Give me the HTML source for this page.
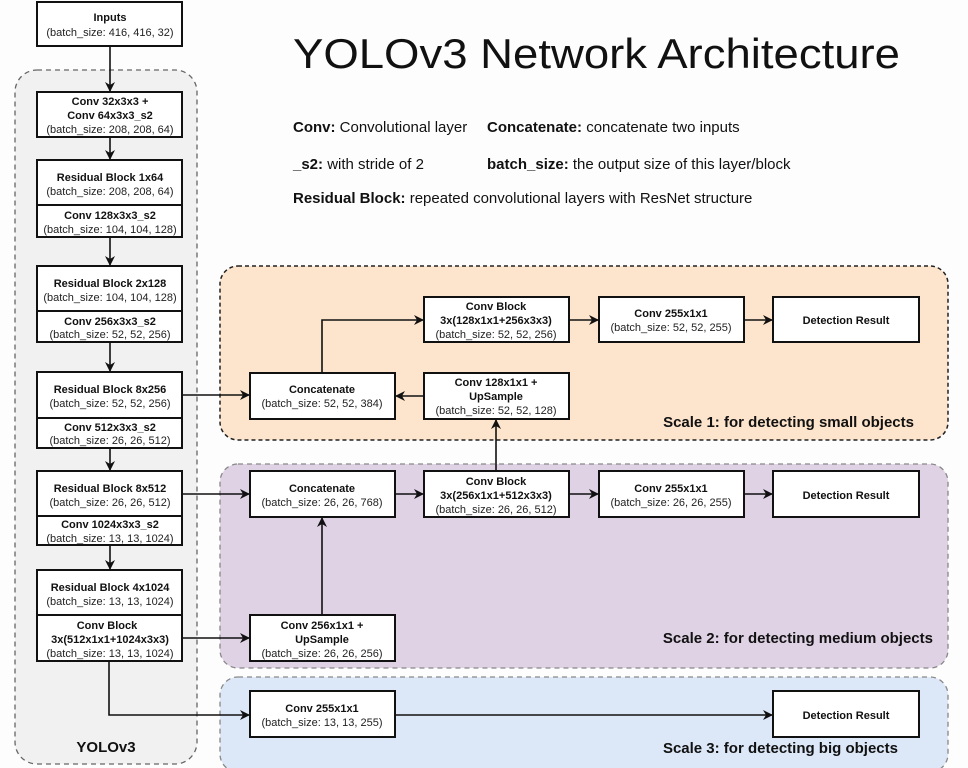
<!DOCTYPE html>
<html><head><meta charset="utf-8"><style>
html,body{margin:0;padding:0;background:#fdfdfd;}
svg{display:block;}
text{font-family:"Liberation Sans",Arial,sans-serif;fill:#111;}
.b{font-weight:bold;font-size:11px;}
.n{font-size:11px;fill:#222;}
</style></head><body>
<svg width="968" height="768" viewBox="0 0 968 768" xmlns="http://www.w3.org/2000/svg">
<defs><marker id="a" markerWidth="10" markerHeight="10" refX="9" refY="5" orient="auto" markerUnits="userSpaceOnUse"><path d="M0,0 L10,5 L0,10 L3,5 z" fill="#111"/></marker></defs>
<rect width="968" height="768" fill="#fdfdfd"/>
<!-- containers -->
<rect x="15" y="70" width="182" height="694" rx="22" fill="#f1f1f1" stroke="#666" stroke-width="1.3" stroke-dasharray="5,4"/>
<rect x="220" y="266" width="728" height="174" rx="18" fill="#fde4cc" stroke="#222" stroke-width="1.5" stroke-dasharray="4,3"/>
<rect x="220" y="464" width="728" height="204" rx="18" fill="#e0d2e5" stroke="#888" stroke-width="1.3" stroke-dasharray="5,4"/>
<rect x="220" y="677" width="728" height="95" rx="18" fill="#dce8f8" stroke="#888" stroke-width="1.3" stroke-dasharray="5,4"/>
<!-- title -->
<text x="293" y="68" font-size="42" textLength="607" lengthAdjust="spacingAndGlyphs">YOLOv3 Network Architecture</text>
<g font-size="15">
<text x="293" y="132"><tspan font-weight="bold">Conv:</tspan> Convolutional layer</text>
<text x="487" y="132"><tspan font-weight="bold">Concatenate:</tspan> concatenate two inputs</text>
<text x="293" y="169"><tspan font-weight="bold">_s2:</tspan> with stride of 2</text>
<text x="487" y="169"><tspan font-weight="bold">batch_size:</tspan> the output size of this layer/block</text>
<text x="293" y="203"><tspan font-weight="bold">Residual Block:</tspan> repeated convolutional layers with ResNet structure</text>
</g>
<!-- left column boxes -->
<g fill="#fff" stroke="#111" stroke-width="2">
<rect x="37" y="2" width="145" height="44"/>
<rect x="37" y="92" width="145" height="45"/>
<rect x="37" y="160" width="145" height="45"/><rect x="37" y="205" width="145" height="32"/>
<rect x="37" y="266" width="145" height="45"/><rect x="37" y="311" width="145" height="31"/>
<rect x="37" y="372" width="145" height="46"/><rect x="37" y="418" width="145" height="30"/>
<rect x="37" y="471" width="145" height="45"/><rect x="37" y="516" width="145" height="29"/>
<rect x="37" y="570" width="145" height="45"/><rect x="37" y="615" width="145" height="46"/>
<rect x="250" y="297" width="0" height="0"/>
<rect x="424" y="297" width="145" height="45"/><rect x="599" y="297" width="145" height="45"/><rect x="773" y="297" width="146" height="45"/>
<rect x="250" y="373" width="145" height="46"/><rect x="424" y="373" width="145" height="46"/>
<rect x="250" y="471" width="145" height="46"/><rect x="424" y="471" width="145" height="46"/><rect x="599" y="471" width="145" height="46"/><rect x="773" y="471" width="146" height="46"/>
<rect x="250" y="615" width="145" height="46"/>
<rect x="250" y="691" width="145" height="46"/><rect x="773" y="691" width="146" height="46"/>
</g>
<g text-anchor="middle">
<text class="b" x="110" y="21">Inputs</text><text class="n" x="110" y="36">(batch_size: 416, 416, 32)</text>
<text class="b" x="110" y="105">Conv 32x3x3 +</text><text class="b" x="110" y="119">Conv 64x3x3_s2</text><text class="n" x="110" y="133">(batch_size: 208, 208, 64)</text>
<text class="b" x="110" y="181">Residual Block 1x64</text><text class="n" x="110" y="195">(batch_size: 208, 208, 64)</text>
<text class="b" x="110" y="219">Conv 128x3x3_s2</text><text class="n" x="110" y="233">(batch_size: 104, 104, 128)</text>
<text class="b" x="110" y="287">Residual Block 2x128</text><text class="n" x="110" y="301">(batch_size: 104, 104, 128)</text>
<text class="b" x="110" y="325">Conv 256x3x3_s2</text><text class="n" x="110" y="338">(batch_size: 52, 52, 256)</text>
<text class="b" x="110" y="393">Residual Block 8x256</text><text class="n" x="110" y="407">(batch_size: 52, 52, 256)</text>
<text class="b" x="110" y="431">Conv 512x3x3_s2</text><text class="n" x="110" y="444">(batch_size: 26, 26, 512)</text>
<text class="b" x="110" y="492">Residual Block 8x512</text><text class="n" x="110" y="506">(batch_size: 26, 26, 512)</text>
<text class="b" x="110" y="528">Conv 1024x3x3_s2</text><text class="n" x="110" y="542">(batch_size: 13, 13, 1024)</text>
<text class="b" x="110" y="591">Residual Block 4x1024</text><text class="n" x="110" y="605">(batch_size: 13, 13, 1024)</text>
<text class="b" x="107" y="629">Conv Block</text><text class="b" x="110" y="643">3x(512x1x1+1024x3x3)</text><text class="n" x="110" y="657">(batch_size: 13, 13, 1024)</text>
<text x="106" y="752" font-size="15" font-weight="bold">YOLOv3</text>

<text class="b" x="496" y="310">Conv Block</text><text class="b" x="496" y="324">3x(128x1x1+256x3x3)</text><text class="n" x="496" y="338">(batch_size: 52, 52, 256)</text>
<text class="b" x="671" y="317">Conv 255x1x1</text><text class="n" x="671" y="331">(batch_size: 52, 52, 255)</text>
<text class="b" x="846" y="324">Detection Result</text>
<text class="b" x="322" y="393">Concatenate</text><text class="n" x="322" y="407">(batch_size: 52, 52, 384)</text>
<text class="b" x="496" y="386">Conv 128x1x1 +</text><text class="b" x="496" y="400">UpSample</text><text class="n" x="496" y="414">(batch_size: 52, 52, 128)</text>
<text class="b" x="322" y="492">Concatenate</text><text class="n" x="322" y="506">(batch_size: 26, 26, 768)</text>
<text class="b" x="496" y="485">Conv Block</text><text class="b" x="496" y="499">3x(256x1x1+512x3x3)</text><text class="n" x="496" y="513">(batch_size: 26, 26, 512)</text>
<text class="b" x="671" y="492">Conv 255x1x1</text><text class="n" x="671" y="506">(batch_size: 26, 26, 255)</text>
<text class="b" x="846" y="499">Detection Result</text>
<text class="b" x="322" y="629">Conv 256x1x1 +</text><text class="b" x="322" y="643">UpSample</text><text class="n" x="322" y="657">(batch_size: 26, 26, 256)</text>
<text class="b" x="322" y="712">Conv 255x1x1</text><text class="n" x="322" y="726">(batch_size: 13, 13, 255)</text>
<text class="b" x="846" y="719">Detection Result</text>
</g>
<g font-size="15" font-weight="bold" text-anchor="end">
<text x="914" y="427">Scale 1: for detecting small objects</text>
<text x="933" y="643">Scale 2: for detecting medium objects</text>
<text x="898" y="753">Scale 3: for detecting big objects</text>
</g>
<!-- connectors -->
<g stroke="#111" stroke-width="1.6" fill="none" marker-end="url(#a)">
<line x1="110" y1="46" x2="110" y2="91"/>
<line x1="110" y1="137" x2="110" y2="159"/>
<line x1="110" y1="237" x2="110" y2="265"/>
<line x1="110" y1="342" x2="110" y2="371"/>
<line x1="110" y1="448" x2="110" y2="470"/>
<line x1="110" y1="545" x2="110" y2="569"/>
<line x1="182" y1="395" x2="249" y2="395"/>
<polyline points="322,373 322,320 423,320"/>
<line x1="569" y1="320" x2="598" y2="320"/>
<line x1="744" y1="320" x2="772" y2="320"/>
<line x1="424" y1="396" x2="396" y2="396"/>
<line x1="496" y1="471" x2="496" y2="420"/>
<line x1="182" y1="494" x2="249" y2="494"/>
<line x1="395" y1="494" x2="423" y2="494"/>
<line x1="569" y1="494" x2="598" y2="494"/>
<line x1="744" y1="494" x2="772" y2="494"/>
<line x1="322" y1="615" x2="322" y2="518"/>
<line x1="182" y1="638" x2="249" y2="638"/>
<polyline points="109,661 109,715 249,715"/>
<line x1="395" y1="715" x2="772" y2="715"/>
</g>
</svg>
</body></html>
